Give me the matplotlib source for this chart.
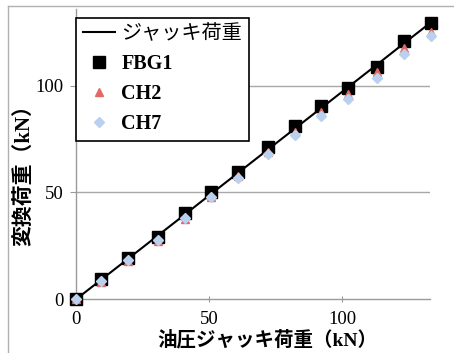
import matplotlib.pyplot as plt
from matplotlib.lines import Line2D

plt.rcParams['font.family'] = ['Liberation Serif', 'Noto Sans CJK JP']

# 油圧ジャッキ荷重 (kN)
jack_load = [0, 9.5, 19.7, 30.8, 41.0, 50.9, 60.9, 72.0, 82.1, 92.1, 102.1, 113.0, 123.4, 133.5]
# ジャッキ荷重 line
jack_line = [0, 9.2, 19.1, 29.9, 39.8, 49.5, 59.2, 70.0, 79.8, 89.5, 99.2, 109.8, 120.0, 129.8]
fbg1 = [0, 9.4, 19.2, 29.3, 40.3, 50.4, 59.7, 71.5, 81.1, 90.5, 98.8, 108.6, 121.1, 129.5]
ch2 = [0, 8.0, 17.8, 27.5, 37.5, 48.0, 57.5, 68.8, 78.5, 87.8, 96.3, 106.6, 117.5, 125.3]
ch7 = [0, 8.6, 18.4, 27.8, 37.9, 47.8, 56.6, 68.0, 76.9, 85.9, 93.9, 103.5, 114.9, 123.1]

yticks = [0, 50, 100]
xticks = [0, 50, 100]

fig = plt.figure(figsize=(4.54, 3.53), dpi=100)
ax = fig.add_axes([76 / 454, 53.7 / 353, 354 / 454, 290.5 / 353])

gray = '#9a9a9a'
for v in yticks[1:]:
    ax.axhline(v, color='#a8a8a8', lw=1.0, zorder=0)

ax.plot(jack_load, jack_line, color='black', lw=1.5, label='ジャッキ荷重', zorder=2)
ax.plot(jack_load, fbg1, ls='none', marker='s', ms=8.5, color='black',
        label='FBG1', zorder=3, clip_on=False)
ax.plot(jack_load, ch2, ls='none', marker='^', ms=6, color='#e06a66',
        label='CH2', zorder=4, clip_on=False)
ax.plot(jack_load, ch7, ls='none', marker='D', ms=5.5, color='#b9d1ee',
        label='CH7', zorder=5, clip_on=False)

ax.set_xlim(0, 133)
ax.set_ylim(0, 136)
ax.set_xticks(xticks)
ax.set_yticks(yticks)
for s in ['top', 'right']:
    ax.spines[s].set_visible(False)
for s in ['left', 'bottom']:
    ax.spines[s].set_color(gray)
    ax.spines[s].set_linewidth(1.0)
ax.tick_params(axis='y', direction='out', length=4, color=gray, labelsize=13.5, pad=5)
ax.tick_params(axis='x', direction='inout', length=5, color=gray, labelsize=13.5, pad=6)

ax.set_xlabel('油圧ジャッキ荷重（kN）', fontsize=14, fontweight='bold')
ax.set_ylabel('変換荷重（kN）', fontsize=15, fontweight='bold')
ax.xaxis.set_label_coords(0.54, -0.105)
ax.yaxis.set_label_coords(-0.115, 0.445)

leg = ax.legend(loc='upper left', bbox_to_anchor=(0.0, 0.968), frameon=True,
                fancybox=False, edgecolor='black', framealpha=1,
                handlelength=1.6, handletextpad=0.3, labelspacing=0.5,
                borderpad=0.35, borderaxespad=0.0,
                prop={'size': 14.5, 'weight': 'bold'})
leg.get_frame().set_linewidth(1.2)
for t in leg.get_texts():
    if t.get_text() == 'ジャッキ荷重':
        t.set_fontweight('normal')

# outer chart frame
fig.add_artist(Line2D([8 / 454, 8 / 454], [0, 1 - 6 / 353], color='#b0b0b0', lw=1.0))
fig.add_artist(Line2D([8 / 454, 1], [1 - 6 / 353, 1 - 6 / 353], color='#b0b0b0', lw=1.0))

fig.savefig('out.png', dpi=100)
